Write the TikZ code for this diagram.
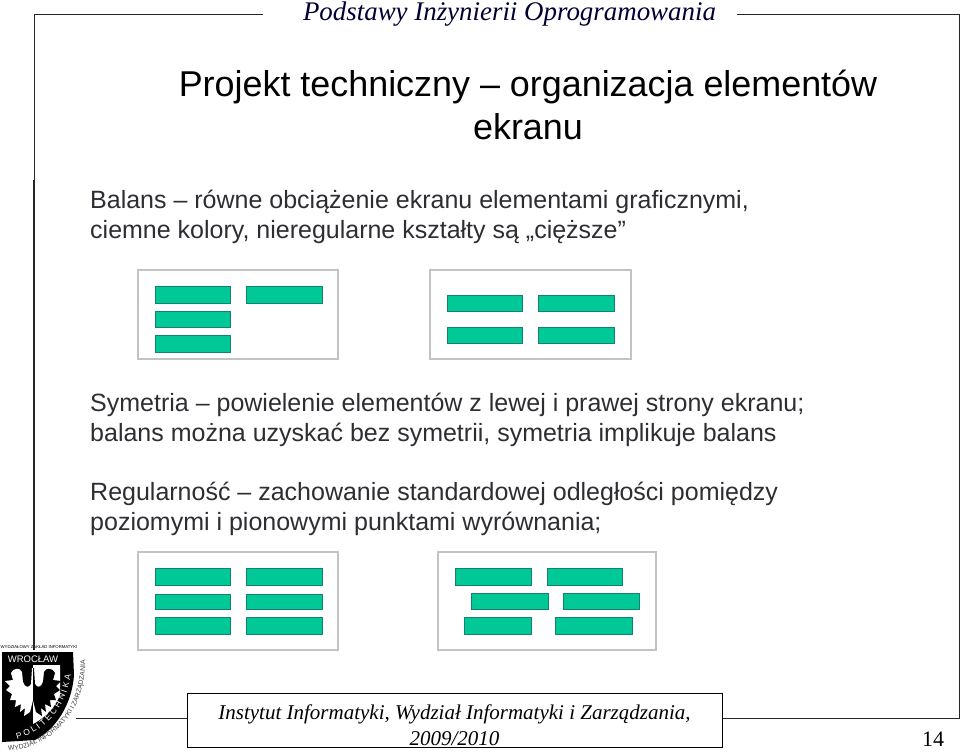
\documentclass[tikz,border=0pt]{standalone}
\usepackage{fontspec}
\setmainfont{Liberation Serif}
\setsansfont{Liberation Sans}
\usetikzlibrary{decorations.text}
\definecolor{barfill}{RGB}{0,200,150}
\definecolor{baredge}{RGB}{20,130,110}
\definecolor{panelgrey}{RGB}{195,195,195}
\definecolor{slidetext}{RGB}{45,45,50}
\tikzset{
  frameline/.style={line width=1pt,black!85},
  panel/.style={draw=panelgrey,line width=1.8pt,fill=white},
  greenbar/.style={draw=baredge,line width=1pt,fill=barfill},
  bodytext/.style={anchor=west,inner sep=0pt,font=\sffamily\fontsize{25}{30}\selectfont,text=slidetext},
  logotext/.style={inner sep=0pt}
}
\begin{document}
\begin{tikzpicture}[x=1pt,y=-1pt]
  \useasboundingbox (0,0) rectangle (960,753);
% frame
\coordinate (corner tl) at (34,14);
\coordinate (corner tr) at (959,14);
\coordinate (corner br) at (959,718);
\coordinate (left end) at (34,650);
\node (header) at (509.5,14.5) [font=\itshape\fontsize{26.9}{27}\selectfont,text=black!80!blue] {Podstawy Inżynierii Oprogramowania};
\node (footer) at (454.5,720) [draw,line width=1pt,minimum width=535pt,minimum height=54pt,inner sep=0pt,align=center,font=\fontsize{21}{26}\selectfont] {\rule{0pt}{25pt}\itshape Instytut Informatyki, Wydział Informatyki i Zarządzania,\\ \itshape 2009/2010};
\node (pagenr) at (933,739) [font=\fontsize{22}{22}\selectfont] {14};
\draw[frameline] (263,14) -- (corner tl) -- (left end);
\draw[frameline] (737,14) -- (corner tr) -- (corner br) -- (footer.east |- corner br);
\draw[frameline] (footer.west |- corner br) -- (76,718);
% title
\node (title) at (528,105) [align=center,font=\sffamily\fontsize{35.9}{43}\selectfont] {Projekt techniczny -- organizacja elementów\\ ekranu};
% text blocks
\node (balans) at (90,216.5) [bodytext,align=left] {Balans -- równe obciążenie ekranu elementami graficznymi,\\ ciemne kolory, nieregularne kształty są „cięższe”};
\node (symetria) at (90,420) [bodytext,align=left] {Symetria -- powielenie elementów z lewej i prawej strony ekranu;\\ balans można uzyskać bez symetrii, symetria implikuje balans};
\node (regular) at (90,508.5) [bodytext,align=left] {Regularność -- zachowanie standardowej odległości pomiędzy\\ poziomymi i pionowymi punktami wyrównania;};
% panels
\foreach \xa/\ya/\xb/\yb in {138/270/338/359,430/270/631/359,138/552/338/650,438/552/656/650}
  \draw[panel] (\xa,\ya) rectangle (\xb,\yb);
\foreach \xa/\ya/\xb/\yb in {155/286/230/303,246/286/322/303,155/311/230/327,155/335/230/352,
  447/295/522/311,538/295/614/311,447/327/522/343,538/327/614/343,
  155/568/230/585,246/568/322/585,155/594/230/609,246/594/322/609,155/617/230/634,246/617/322/634,
  455/568/531/585,547/568/622/585,471/593/548/609,563/593/639/609,464/617/531/634,555/617/632/634}
  \draw[greenbar] (\xa,\ya) rectangle (\xb,\yb);
% logo
\fill[black] (2,652) -- (73,652) -- (74,675) .. controls (72,705) and (55,730) .. (35,740) -- (2,742) -- cycle;
\fill[white] (33,665) -- (60,665) -- (60,695) .. controls (56,705) and (48,716) .. (33,724) -- cycle;
\foreach \dir/\col in {1/white,-1/black}
  \fill[\col,xshift=33pt,xscale=\dir] (-22,673) .. controls (-20,668) and (-13,667) .. (-11,672) -- (-10,682) .. controls (-8,688) and (-4,688) .. (-2,684) -- (-1,668) -- (0,668) -- (0,700) -- (-3,712) -- (-9,716) -- (-8,708) -- (-13,712) -- (-12,704) -- (-18,707) -- (-17,700) -- (-23,700) -- (-21,694) -- (-27,690) -- (-23,686) -- (-28,681) -- (-20,680) -- cycle;
\node (zaklad) at (39,647) [logotext,font=\sffamily\fontsize{4.25}{5}\selectfont] {WYDZIAŁOWY ZAKŁAD INFORMATYKI};
\node (wroclaw) at (33,659) [logotext,text=white,font=\sffamily\fontsize{9.5}{10}\selectfont] {WROCŁAW};
\path[postaction={decorate,decoration={text along path,text align=center,text color=white,text={|\sffamily\fontsize{8.5}{9}\selectfont|P O L I T E C H N I K A}}}] (5,741) .. controls (40,739) and (71,708) .. (72,663);
\path[postaction={decorate,decoration={text along path,text align=center,text color=black!75,text={|\sffamily\fontsize{6.8}{7}\selectfont|WYDZIAŁ INFORMATYKI I ZARZĄDZANIA}}}] (3,751) .. controls (55,750) and (88,708) .. (85,655);
\draw[frameline,line width=1.4pt] (corner tl |- 0,180) -- (left end);
\end{tikzpicture}
\end{document}
